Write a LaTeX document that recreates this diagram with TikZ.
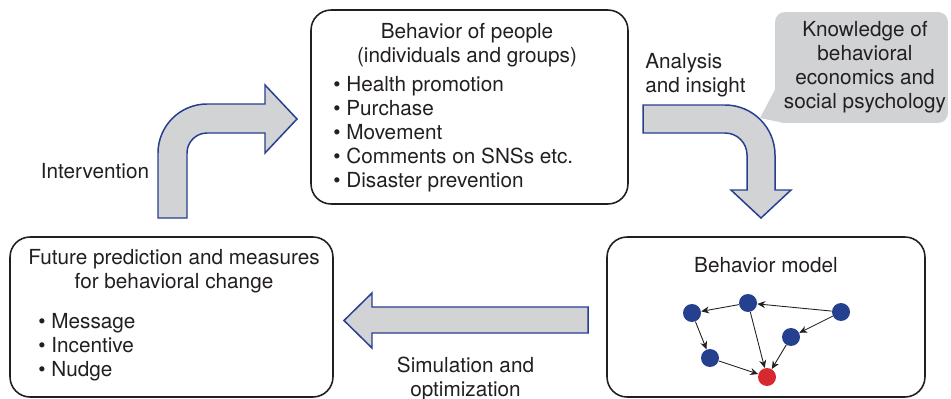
\documentclass[tikz,border=0pt]{standalone}
\usepackage{fontspec}
\setmainfont{TeX Gyre Heros}
\usetikzlibrary{arrows.meta,positioning}

\definecolor{arrowgray}{HTML}{D1D3D4}
\definecolor{arrowblue}{HTML}{263F91}
\definecolor{dotblue}{HTML}{24408E}
\definecolor{dotred}{HTML}{D7282F}
\definecolor{inkgray}{HTML}{231F20}
\definecolor{notegray}{HTML}{D1D2D4}

\tikzset{
  panel/.style={draw=inkgray, line width=0.9pt, rounded corners=0.4cm, inner sep=0pt},
  blockarrow/.style={fill=arrowgray, draw=arrowblue, line width=0.85pt, line join=miter},
  txt/.style={text=inkgray, align=center, inner sep=0pt, font=\fontsize{11.8}{13.6}\selectfont},
  gnode/.style={circle, fill=dotblue, minimum size=0.36cm, inner sep=0pt},
  link/.style={-{Stealth[length=4.5pt,width=4pt]}, line width=0.5pt, inkgray},
}

\begin{document}
\begin{tikzpicture}[x=0.02cm, y=-0.02cm]
    \useasboundingbox (0,0) rectangle (951,399);

    % boxes
    \node[panel, minimum width=6.34cm, minimum height=3.88cm] (people) at (469.5,107) {};
    \node[panel, minimum width=6.46cm, minimum height=3.2cm]  (future) at (171.5,317) {};
    \node[panel, minimum width=6.36cm, minimum height=3.2cm]  (model)  at (766,317) {};

    % knowledge callout
    \fill[notegray] (778,84) -- (760,118) -- (784,123) -- cycle;
    \node[fill=notegray, rounded corners=0.2cm, minimum width=3.46cm, minimum height=2.22cm,
          inner sep=0pt] (note) at (861.5,67.5) {};
    \node[txt] (notetext) at (865,67) {Knowledge of\\behavioral\\economics and\\social psychology};

    % texts in boxes
    \node[txt] (peopletitle) at (467,45.5) {Behavior of people\\(individuals and groups)};
    \node[txt, align=left, anchor=west] (peoplelist) at (333,134)
        {\textbullet\ Health promotion\\\textbullet\ Purchase\\\textbullet\ Movement\\
         \textbullet\ Comments on SNSs etc.\\\textbullet\ Disaster prevention};
    \node[txt] (futuretitle) at (174,271.5) {Future prediction and measures\\for behavioral change};
    \node[txt, align=left, anchor=west] (futurelist) at (38,347.5)
        {\textbullet\ Message\\\textbullet\ Incentive\\\textbullet\ Nudge};
    \node[txt] (modeltitle) at (766,264.7) {Behavior model};

    % labels of the loop
    \node[txt] (intervention) at (95,170.7) {Intervention};
    \node[txt, align=left, anchor=west] (analysis) at (645,75) {Analysis\\and insight};
    \node[txt] (simulation) at (465.5,379.4) {Simulation and\\optimization};

    % block arrows
    \draw[blockarrow] (158,218) -- (158,153) .. controls (158,126) and (180,104) .. (207,104)
        -- (265,104) -- (265,85) -- (297,119) -- (265,153) -- (265,133) -- (207,133)
        .. controls (196,133) and (187,142) .. (187,153) -- (187,218) -- cycle;
    \draw[blockarrow] (643,105) -- (725,105) .. controls (752.6,105) and (775,127.4) .. (775,155)
        -- (775,190) -- (791,190) -- (761,218) -- (731,190) -- (747,190) -- (747,155)
        .. controls (747,142.8) and (737.2,133) .. (725,133) -- (643,133) -- cycle;
    \draw[blockarrow] (588,307) -- (372,307) -- (372,293) -- (344,320.5) -- (372,348)
        -- (372,333) -- (588,333) -- cycle;

    % behavior model graph
    \node[gnode] (g1) at (692,313) {};
    \node[gnode] (g2) at (748,303) {};
    \node[gnode] (g3) at (841,312) {};
    \node[gnode] (g4) at (791,337) {};
    \node[gnode] (g5) at (710,358) {};
    \node[gnode, fill=dotred] (goal) at (767,377) {};

    \path[link] (g2) edge (g1)
                (g3) edge (g2)
                (g3) edge (g4)
                (g1) edge (g5)
                (g5) edge (goal)
                (g2) edge (goal)
                (g4) edge (goal);
\end{tikzpicture}
\end{document}
